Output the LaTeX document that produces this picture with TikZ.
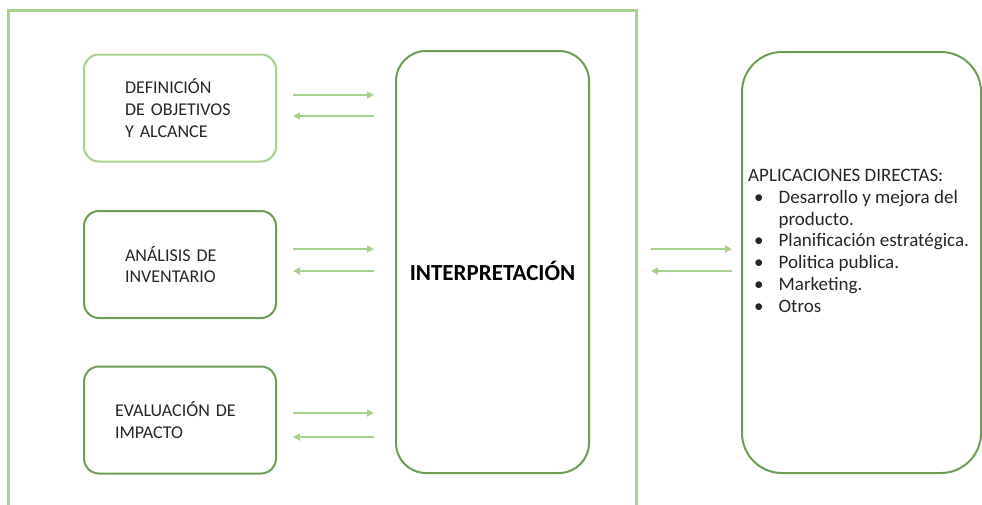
\documentclass[tikz,border=0pt]{standalone}
\usepackage{fontspec}
\setmainfont{Carlito}
\usetikzlibrary{arrows.meta}
\definecolor{lightgreen}{HTML}{A9D18E}
\definecolor{darkgreen}{HTML}{6E9D56}
\definecolor{txtgray}{HTML}{262626}

\begin{document}
\begin{tikzpicture}[x=1pt, y=-1pt,
    every node/.style={font=\fontsize{18}{21.8}\selectfont, text=txtgray},
    stagebox/.style={draw=#1, line width=2pt, rounded corners=15pt,
        minimum width=192pt, minimum height=107pt, align=left},
    bigbox/.style={draw=darkgreen, line width=2pt},
    frame/.style={draw=lightgreen, line width=3pt},
    flow/.style={lightgreen, line width=2pt, -{Triangle[length=7pt,width=7pt]}}]
    % Page
    \useasboundingbox (0,0) rectangle (982,504);
    \clip (0,0) rectangle (982,504);
    % Outer frame
    \draw[frame] (8,10) rectangle (636,540);
    % Stages
    \node[stagebox=lightgreen, text width=110pt] (def) at (180,108) {DEFINICIÓN\\DE OBJETIVOS\\Y ALCANCE};
    \node[stagebox=darkgreen, text width=110pt] (ana) at (180,264.5) {ANÁLISIS DE\\INVENTARIO};
    \node[stagebox=darkgreen, text width=130pt] (eva) at (180,420) {EVALUACIÓN DE\\IMPACTO};
    % Interpretation
    \node[bigbox, minimum width=193pt, minimum height=422pt, rounded corners=30pt] (interp) at (492.5,262) {};
    \node[font=\fontsize{23}{27}\selectfont\bfseries, text=black] (interptxt) at (492.5,271) {INTERPRETACIÓN};
    % Applications
    \node[bigbox, minimum width=239pt, minimum height=421pt, rounded corners=40pt] (apl) at (861.5,262.5) {};
    \node[anchor=north west, inner sep=0pt, font=\fontsize{19}{21.8}\selectfont] (apltxt) at (748,166) {%
        \begin{tabular}{@{}l@{\hspace{15pt}}l@{}}
        \multicolumn{2}{@{}l@{}}{APLICACIONES DIRECTAS:}\\
        \hspace{6pt}\textbullet & Desarrollo y mejora del\\
         & producto.\\
        \hspace{6pt}\textbullet & Planificación estratégica.\\
        \hspace{6pt}\textbullet & Politica publica.\\
        \hspace{6pt}\textbullet & Marketing.\\
        \hspace{6pt}\textbullet & Otros
        \end{tabular}};
    % Arrows between stages and interpretation
    \foreach \src/\yr/\yl in {def/95/116, ana/249/271, eva/413/437}
    {
        \draw[flow, shorten <=16pt, shorten >=21pt] (\src.east |- 0,\yr) -- (interp.west |- 0,\yr);
        \draw[flow, shorten <=21pt, shorten >=16pt] (interp.west |- 0,\yl) -- (\src.east |- 0,\yl);
    }
    % Arrows to applications
    \draw[flow, shorten <=61pt, shorten >=9pt] (interp.east |- 0,249) -- (apl.west |- 0,249);
    \draw[flow, shorten <=9pt, shorten >=61pt] (apl.west |- 0,271) -- (interp.east |- 0,271);
\end{tikzpicture}
\end{document}
